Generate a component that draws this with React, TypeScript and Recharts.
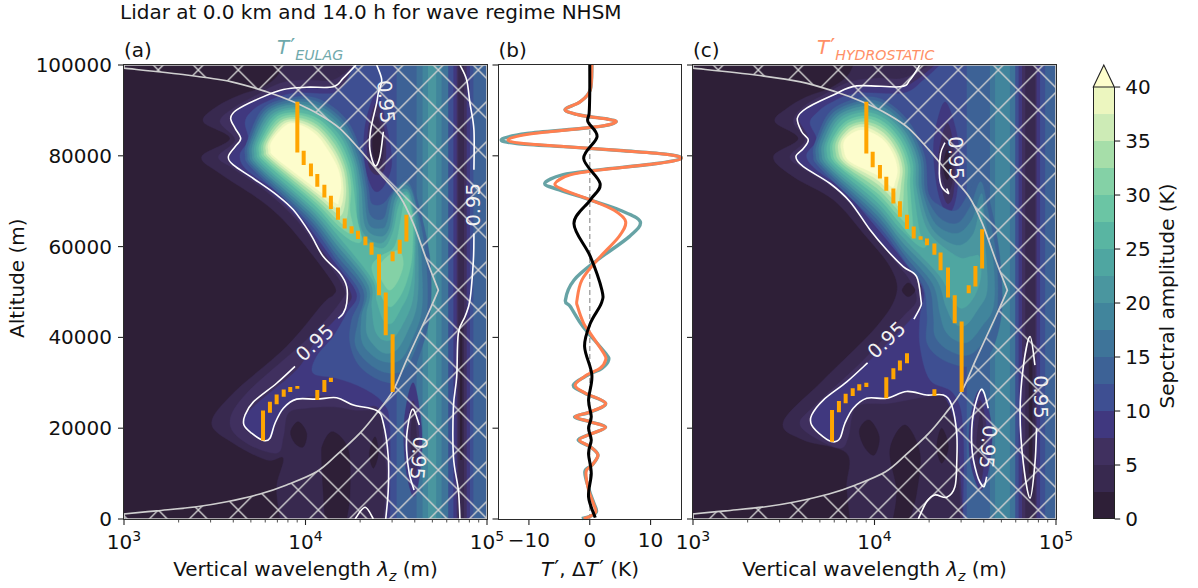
import React from 'react';
import { ScatterChart, Scatter, XAxis, YAxis, ReferenceLine, BarChart, Bar } from 'recharts';

type P = [number, number];
const FONT = '"DejaVu Sans", sans-serif';
const FS = 20;

// colour bands (2.5 K each)
const bandColors = ['#2e1f37','#38294f','#40305f','#40387f','#3e4f92','#3d6296','#3e7499','#41859c','#4a969f','#4fa6a1','#59b5a2','#6bc5a4','#84d1a6','#a6dea9','#cdebb6','#ecf6bf','#fdfdcc'];
const cbarLevels = [0,1,2,3,4,5,6,7,8,9,10,11,12,13,14,15];
const cbarTicks = [0,5,10,15,20,25,30,35,40];
const altTicks = [0,20000,40000,60000,80000,100000];
const lambdaTicks = [1000,2000,3000,4000,5000,6000,7000,8000,9000,10000,20000,30000,40000,50000,60000,70000,80000,90000,100000];
const tempTicks = [-10,0,10];

// cone of influence: [log10 wavelength, altitude km]
const coi: P[] = [[3,99.3],[3,99.3],[3.345,97.8],[3.593,96.3],[3.786,94.1],[3.933,91.9],[4.08,89],[4.19,86],[4.30,81.3],[4.41,76.1],[4.521,71],[4.594,65.1],[4.668,57],[4.732,50.4],[4.732,50.4],[4.668,44.6],[4.557,35],[4.484,28.4],[4.392,23.3],[4.30,18.9],[4.172,14.1],[4.061,10.4],[3.896,7.5],[3.749,5.5],[3.566,3.8],[3.4,2.7],[3.18,1.8],[3,1.1],[3,1.1],[3,0],[3,0],[5,0],[5,0],[5,100],[5,100],[3,100],[3,100]];
const fullField: P[] = [[3,0],[5,0],[5,100],[3,100]];

// panel a filled contours
const aL1: P[] = [[3.437,87.5],[3.584,83.8],[3.428,79.8],[3.529,76.1],[3.749,70.3],[3.896,65.1],[4.061,57],[4.162,51.2],[4.153,49.3],[4.098,47.5],[3.896,38],[3.602,27.7],[3.483,21.1],[3.602,16.7],[3.786,13],[3.878,13.4],[3.841,7.1],[3.86,0],[3.86,0],[5,0],[5,0],[5,100],[5,100],[3.878,100],[3.878,100],[3.841,97.4],[3.768,95.2],[3.639,93.4],[3.51,90.8]];
const aL2: P[] = [[3.529,87.5],[3.612,83.5],[3.52,79.8],[3.602,77.2],[3.786,72.1],[3.951,65.9],[4.098,57.8],[4.208,51.2],[4.199,48.2],[4.025,40.2],[3.676,27.7],[3.584,21.1],[3.676,16.7],[3.841,14.5],[3.878,18.1],[3.905,23.3],[4.006,24.4],[4.153,24.7],[4.264,24],[4.41,23.3],[4.429,16.7],[4.447,9.3],[4.429,0],[4.429,0],[5,0],[5,0],[5,100],[5,100],[4.264,100],[4.264,100],[4.153,96.7],[4.006,96.7],[3.86,96],[3.713,93],[3.602,90.5]];
const aL3: P[] = [[3.593,87.9],[3.643,83.8],[3.584,79.8],[3.612,77.6],[3.804,72.1],[3.951,66.6],[4.117,57.8],[4.245,50.4],[4.227,46.8],[4.061,39.4],[3.951,32.8],[3.713,24.7],[3.657,21.1],[3.713,18.5],[3.768,17.4],[3.814,18.1],[3.841,21.8],[3.896,24.7],[3.97,26.6],[4.153,27],[4.30,24.7],[4.41,24],[4.456,13],[4.447,0],[4.447,0],[5,0],[5,0],[5,100],[5,100],[4.30,100],[4.30,100],[4.227,96],[4.153,94.9],[4.006,94.9],[3.878,94.5],[3.749,92.7],[3.639,90.5]];
const aL4: P[] = [[3.667,87.2],[3.685,83.5],[3.639,80.2],[3.676,76.9],[3.841,72.1],[3.988,65.9],[4.153,57],[4.282,49.7],[4.227,45.3],[4.153,40.2],[4.061,35.8],[4.043,32.1],[4.172,31],[4.319,28.8],[4.429,25.5],[4.466,20.3],[4.466,0],[4.466,0],[5,0],[5,0],[5,100],[5,100],[4.264,100],[4.264,100],[4.227,96.7],[4.153,93.8],[3.933,93.8],[3.768,91.6],[3.694,89.4]];
const aL5: P[] = [[4.172,57],[4.30,49.7],[4.254,43.8],[4.245,38.7],[4.30,33.6],[4.429,30.3],[4.557,30.6],[4.631,36.5],[4.686,45.3],[4.686,57],[4.631,68],[4.567,75.4],[4.493,72.8],[4.429,69.5],[4.365,69.5],[4.346,73.2],[4.309,80.5],[4.227,87.9],[4.08,92.4],[3.933,92.9],[3.768,90.5],[3.685,83.8],[3.667,80.2],[3.713,76.9],[4.006,65.9]];
const aL6: P[] = [[4.172,58.1],[4.319,50.4],[4.291,43.8],[4.273,38.7],[4.328,35],[4.429,32.4],[4.539,32.8],[4.612,38],[4.668,45.3],[4.664,57],[4.622,67.3],[4.561,74.3],[4.47,71],[4.43,66.2],[4.355,67],[4.333,73.2],[4.298,80.2],[4.219,87.2],[4.078,91.7],[3.937,92.4],[3.779,90.1],[3.698,83.8],[3.68,80.3],[3.724,77.1],[4.014,66.4]];
const aL7: P[] = [[4.172,59.3],[4.333,50.8],[4.309,44.6],[4.309,39.4],[4.355,36.5],[4.429,34.7],[4.521,35],[4.585,39.4],[4.64,46],[4.64,56.3],[4.62,65.9],[4.58,72.5],[4.53,73.5],[4.48,71],[4.45,65.5],[4.42,64],[4.346,65.1],[4.319,73.2],[4.285,79.9],[4.21,86.6],[4.076,91],[3.94,91.8],[3.791,89.8],[3.709,83.8],[3.692,80.4],[3.736,77.3],[4.019,67]];
const aL8: P[] = [[4.172,60.4],[4.346,51.5],[4.337,45.3],[4.337,40.9],[4.383,38],[4.438,36.5],[4.502,37.2],[4.557,40.9],[4.612,46.8],[4.622,55.6],[4.61,65.1],[4.575,71.8],[4.53,72.5],[4.49,70],[4.46,64],[4.41,62.2],[4.328,64.4],[4.306,73.2],[4.274,79.5],[4.203,85.9],[4.074,90.3],[3.942,91.3],[3.802,89.5],[3.722,83.8],[3.705,80.5],[3.747,77.5],[4.027,67.5]];
const aL9: P[] = [[4.172,61.5],[4.355,52.3],[4.365,46.8],[4.383,41.6],[4.429,39.4],[4.484,39.8],[4.539,43.1],[4.59,48.2],[4.603,55.6],[4.603,64.4],[4.572,71.3],[4.535,71.8],[4.50,69.5],[4.47,63.5],[4.41,60.7],[4.309,63.7],[4.291,73.2],[4.264,79.2],[4.194,85.2],[4.073,89.6],[3.946,90.7],[3.814,89.1],[3.733,83.7],[3.718,80.6],[3.758,77.8],[4.032,68.1]];
const aL10: P[] = [[4.172,62.7],[4.365,53],[4.392,48.2],[4.429,43.8],[4.475,43.1],[4.521,46],[4.567,49.7],[4.594,55.6],[4.598,64.4],[4.57,70.8],[4.54,71],[4.51,68.5],[4.48,63],[4.42,59.6],[4.30,62.9],[4.278,73.2],[4.252,78.9],[4.186,84.6],[4.071,88.9],[3.95,90.2],[3.826,88.8],[3.746,83.7],[3.731,80.8],[3.771,78],[4.04,68.6]];
const aL11: P[] = [[4.172,63.9],[4.264,61.1],[4.309,61.5],[4.282,66.6],[4.264,73.2],[4.24,78.5],[4.177,83.8],[4.071,88.1],[3.953,89.5],[3.839,88.5],[3.758,83.6],[3.744,80.8],[3.784,78.3],[4.047,69.3]];
const aL11b: P[] = [[4.568,70],[4.59,66],[4.59,60],[4.579,55.6],[4.539,50.4],[4.475,46.8],[4.429,48.2],[4.392,51.9],[4.365,55.6],[4.41,57.8],[4.49,60],[4.525,66],[4.545,70.3]];
const aL12: P[] = [[4.172,65],[4.245,62.9],[4.264,64],[4.245,68],[4.251,73.2],[4.227,78.2],[4.168,83.2],[4.069,87.4],[3.957,89],[3.85,88.1],[3.771,83.6],[3.757,81],[3.795,78.5],[4.054,69.8]];
const aL12b: P[] = [[4.511,59.2],[4.539,56.3],[4.511,52.6],[4.466,50.4],[4.429,51.9],[4.401,54.8],[4.429,57]];
const aL13: P[] = [[4.172,66.1],[4.217,65.1],[4.236,68.8],[4.236,73.2],[4.216,77.8],[4.161,82.5],[4.067,86.7],[3.96,88.4],[3.861,87.7],[3.782,83.6],[3.77,81],[3.806,78.8],[4.06,70.4]];
const aL14: P[] = [[4.172,67.3],[4.199,67],[4.217,69.5],[4.223,73.2],[4.205,77.5],[4.151,81.9],[4.065,86],[3.962,87.9],[3.872,87.4],[3.795,83.5],[3.782,81.2],[3.817,79],[4.067,71]];
const aL15: P[] = [[4.172,68.4],[4.19,68.4],[4.205,70.3],[4.208,73.2],[4.192,77.2],[4.144,81.2],[4.063,85.3],[3.966,87.3],[3.885,87.1],[3.806,83.5],[3.795,81.3],[3.83,79.2],[4.073,71.5]];
const aL16: P[] = [[4.172,69.5],[4.181,69.9],[4.196,73.2],[4.181,76.9],[4.135,80.5],[4.061,84.6],[3.97,86.8],[3.896,86.8],[3.819,83.5],[3.808,81.4],[3.841,79.4],[4.08,72.1]];

// vertical stripes [band, log10 left, log10 right, km low, km high]
const aStripes = [[5,4.502,5,0,100],[6,4.612,4.787,0,100],[7,4.645,4.75,0,100],[8,4.675,4.72,0,100],[4,4.787,4.925,0,100],[3,4.815,4.906,0,100],[2,4.833,4.888,0,100],[1,4.842,4.873,0,100],[0,4.851,4.864,13,42]];
const cStripes = [[5,4.508,5,0,100],[6,4.636,4.776,0,100],[7,4.664,4.746,0,100],[4,4.776,4.94,0,100],[3,4.794,4.912,0,100],[2,4.813,4.893,0,100],[1,4.831,4.886,0,100],[0,4.85,4.87,10,35]];

// low-amplitude pockets: band, outline
const aPockets: [number, P[]][] = [
  [3,[[4.392,93.8],[4.447,86.4],[4.475,78.3],[4.429,73.2],[4.374,72.5],[4.328,78.3],[4.328,86.4]]],
  [2,[[4.392,91.6],[4.438,85],[4.438,77.6],[4.392,75.8],[4.346,78.3],[4.346,85.7]]],
  [1,[[4.392,88.6],[4.429,83.5],[4.42,78.3],[4.388,77.2],[4.359,79.8],[4.359,85]]],
  [0,[[4.392,86.4],[4.42,82.7],[4.401,79.1],[4.377,79.8],[4.37,83.5]]],
  [1,[[4.15,100],[4.15,100],[4.25,100],[4.25,100],[4.2,98]]],
  [3,[[4.594,30],[4.64,20],[4.63,10],[4.594,5],[4.55,12],[4.545,22]]],
  [2,[[4.594,26],[4.625,19],[4.615,12],[4.594,9],[4.57,14],[4.565,21]]],
  [1,[[4.594,24],[4.612,18],[4.60,13],[4.58,17]]],
  [0,[[3.96,21.4],[4.006,18.9],[3.988,15.9],[3.942,16.7],[3.918,19.2]]],
  [0,[[4.153,19.2],[4.236,15.2],[4.245,5.7],[4.227,0],[4.227,0],[4.107,0],[4.107,0],[4.089,13],[4.098,16.7]]],
  [0,[[4.383,18.1],[4.401,14.5],[4.374,11.2],[4.352,14.5]]],
];
const cPockets: [number, P[]][] = [
  [3,[[4.398,91.6],[4.462,82.7],[4.453,71.7],[4.407,67.3],[4.352,71.7],[4.325,81.3],[4.352,88.6]]],
  [2,[[4.401,87.2],[4.443,79.8],[4.434,71.7],[4.401,69.5],[4.37,73.2],[4.352,79.8]]],
  [1,[[4.401,83.5],[4.434,77.6],[4.416,72.5],[4.383,74],[4.365,79.1]]],
  [0,[[4.401,81.3],[4.42,77.6],[4.401,74.7],[4.379,77.6]]],
  [1,[[4.12,100],[4.12,100],[4.2,100],[4.2,100],[4.16,98]]],
  [3,[[4.582,28.4],[4.646,20.3],[4.628,10.8],[4.582,6.4],[4.527,13],[4.527,21.8]]],
  [2,[[4.582,26.2],[4.618,19.6],[4.6,11.5],[4.582,8.6],[4.545,15.2],[4.55,21.1]]],
  [1,[[4.585,23.3],[4.6,18.1],[4.585,11.5],[4.563,16.7]]],
  [0,[[3.971,21.8],[4.026,18.1],[3.999,14.1],[3.944,15.9],[3.917,19.6]]],
  [0,[[4.168,20.7],[4.25,14.5],[4.232,5.7],[4.195,0],[4.195,0],[4.103,0],[4.103,0],[4.122,6.4],[4.085,15.2]]],
  [0,[[4.37,20],[4.407,15.9],[4.37,12.3],[4.343,15.9]]],
  [0,[[4.186,52],[4.223,50.4],[4.186,49],[4.153,50.4]]],
];

// panel c filled contours
const cL1: P[] = [[3.452,87.5],[3.58,83.8],[3.443,79.8],[3.553,75.4],[3.773,70.3],[3.939,62.9],[4.085,55.6],[4.122,49.7],[4.012,42.4],[3.718,30.6],[3.498,21.4],[3.608,17.4],[3.847,14.5],[3.847,7.1],[3.865,0],[3.865,0],[5,0],[5,0],[5,100],[5,100],[3.884,100],[3.884,100],[3.847,97.4],[3.755,94.9],[3.626,93],[3.516,90.4]];
const cL2: P[] = [[3.553,87.5],[3.617,83.5],[3.534,79.8],[3.617,76.9],[3.81,71.7],[3.975,63.7],[4.122,56.3],[4.195,52.6],[4.232,48.2],[4.158,44.6],[3.939,35],[3.663,24.7],[3.589,21.1],[3.663,18.1],[3.81,15.6],[3.856,18.1],[3.902,24.7],[4.085,25.5],[4.306,27],[4.416,26.2],[4.452,16.7],[4.471,5.7],[4.471,0],[4.471,0],[5,0],[5,0],[5,100],[5,100],[4.306,100],[4.306,100],[4.158,97.1],[4.012,97.1],[3.865,96.3],[3.718,93.4],[3.608,90.8]];
const cL3: P[] = [[3.584,88],[3.639,83.5],[3.571,79.8],[3.617,77.5],[3.755,73.8],[3.865,69.9],[3.975,63.7],[4.067,59.3],[4.158,55.6],[4.25,52.6],[4.256,48.2],[4.214,44.6],[3.957,34.3],[3.718,26.2],[3.654,22.9],[3.654,20.7],[3.718,18.1],[3.773,17],[3.81,17.8],[3.837,21.1],[3.883,24.4],[3.957,26.6],[4.067,26.6],[4.177,28.1],[4.287,27.3],[4.379,27.3],[4.453,18.9],[4.489,0],[4.489,0],[5,0],[5,0],[5,100],[5,100],[4.333,100],[4.333,100],[4.232,96.7],[4.14,95.2],[3.902,95.4],[3.773,93.4],[3.626,90.5]];
const cL4: P[] = [[3.645,87.2],[3.681,83.5],[3.626,80.2],[3.672,77.2],[3.828,72.5],[3.993,65.1],[4.158,57],[4.27,50.4],[4.251,44.6],[4.251,38],[4.306,30.6],[4.434,27.7],[4.489,20.3],[4.489,0],[4.489,0],[5,0],[5,0],[5,100],[5,100],[4.361,100],[4.361,100],[4.27,96.7],[4.158,93.8],[3.902,93.8],[3.755,91.6],[3.681,89.4]];
const cL5: P[] = [[4.177,56.3],[4.27,51.2],[4.29,44.6],[4.29,38.7],[4.38,35],[4.527,33.6],[4.637,36.5],[4.70,45.3],[4.692,57],[4.646,68],[4.582,76.1],[4.517,71.7],[4.453,68],[4.37,68.8],[4.298,71.7],[4.278,79.8],[4.195,87.2],[4.067,91.9],[3.939,92.9],[3.764,90.1],[3.681,83.8],[3.663,80.2],[3.709,76.9],[4.012,65.1]];
const cL6: P[] = [[4.17,57.9],[4.30,51.2],[4.325,44.6],[4.334,40.2],[4.407,37.2],[4.517,36.1],[4.608,39.4],[4.673,45.3],[4.673,57],[4.628,67.3],[4.586,74.3],[4.527,68.8],[4.453,65.1],[4.352,66.6],[4.28,71.9],[4.265,79.5],[4.188,86.5],[4.065,91.2],[3.941,92.2],[3.775,89.6],[3.695,83.8],[3.677,80.3],[3.724,77.1],[4.012,66.1]];
const cL7: P[] = [[4.162,59.3],[4.319,51.9],[4.36,45.3],[4.388,41.6],[4.444,39.4],[4.517,39],[4.591,42.4],[4.655,46.8],[4.655,56.3],[4.609,65.9],[4.59,71.7],[4.536,65.9],[4.453,62.9],[4.334,65.1],[4.264,72.2],[4.251,79.3],[4.179,85.9],[4.063,90.4],[3.942,91.6],[3.788,89.2],[3.708,83.8],[3.694,80.4],[3.737,77.2],[4.012,67]];
const cL8: P[] = [[4.155,60.9],[4.338,53],[4.393,46.8],[4.44,43.1],[4.503,42.7],[4.567,46],[4.618,49.7],[4.618,56.3],[4.6,63.7],[4.587,69.5],[4.545,62.9],[4.453,60.3],[4.316,64],[4.247,72.4],[4.238,79],[4.171,85.2],[4.061,89.6],[3.944,90.9],[3.799,88.8],[3.723,83.7],[3.709,80.5],[3.752,77.3],[4.012,68]];
const cL9: P[] = [[4.148,62.4],[4.356,53.7],[4.43,48.2],[4.486,46.4],[4.55,49],[4.586,53.4],[4.577,57.8],[4.53,57.8],[4.456,57.8],[4.297,63.3],[4.231,72.7],[4.223,78.8],[4.162,84.7],[4.06,88.9],[3.946,90.2],[3.81,88.4],[3.738,83.7],[3.724,80.6],[3.766,77.5],[4.012,68.9]];
const cL10: P[] = [[4.14,64],[4.251,60],[4.287,60.4],[4.251,62.9],[4.214,72.9],[4.21,78.5],[4.155,84],[4.058,88.1],[3.948,89.6],[3.823,88],[3.751,83.7],[3.738,80.7],[3.779,77.7],[4.012,69.9]];
const cL11: P[] = [[4.131,65.6],[4.203,62.2],[4.213,63.7],[4.196,73.1],[4.194,78.2],[4.146,83.3],[4.056,87.3],[3.949,88.8],[3.836,87.4],[3.767,83.6],[3.757,80.8],[3.795,77.9],[4.012,71]];
const cL12: P[] = [[4.124,67.1],[4.177,65.1],[4.186,66.6],[4.179,73.3],[4.181,77.9],[4.137,82.7],[4.054,86.5],[3.951,88.2],[3.847,87],[3.78,83.6],[3.771,80.9],[3.808,78],[4.012,71.9]];
const cL13: P[] = [[4.117,68.6],[4.15,67.3],[4.162,73.6],[4.166,77.7],[4.129,82.1],[4.053,85.8],[3.953,87.5],[3.858,86.6],[3.795,83.6],[3.786,81],[3.823,78.2],[4.012,72.9]];
const cL14: P[] = [[4.109,70.2],[4.13,69.2],[4.146,73.9],[4.153,77.4],[4.12,81.4],[4.051,85],[3.955,86.9],[3.869,86.2],[3.809,83.5],[3.801,81.1],[3.838,78.3],[4.012,73.9]];
const cL15: P[] = [[4.102,71.7],[4.129,74.1],[4.139,77.2],[4.113,80.8],[4.049,84.2],[3.957,86.2],[3.882,85.8],[3.822,83.5],[3.817,81.2],[3.851,78.5],[4.012,74.8]];
const cL16: P[] = [[4.095,73.2],[4.113,74.3],[4.126,76.9],[4.104,80.2],[4.048,83.5],[3.957,85.5],[3.893,85.3],[3.837,83.5],[3.832,81.3],[3.866,78.7],[4.012,75.8]];

const aBase: [number, P[]][] = [[1,aL1],[2,aL2],[3,aL3],[4,aL4]];
const aUpper: [number, P[]][] = [[5,aL5],[6,aL6],[7,aL7],[8,aL8],[9,aL9],[10,aL10],[11,aL11],[11,aL11b],[12,aL12],[12,aL12b],[13,aL13],[14,aL14],[15,aL15],[16,aL16]];
const cBase: [number, P[]][] = [[1,cL1],[2,cL2],[3,cL3],[4,cL4]];
const cUpper: [number, P[]][] = [[5,cL5],[6,cL6],[7,cL7],[8,cL8],[9,cL9],[10,cL10],[11,cL11],[12,cL12],[13,cL13],[14,cL14],[15,cL15],[16,cL16]];

// significance contours (0.95)
const aSig: P[][] = [
  [[4.278,100],[4.208,97.1],[4.153,95.2],[4.006,95.1],[3.878,94.6],[3.749,92.7],[3.621,90.1],[3.588,88.3],[3.612,86.1],[3.643,83.8],[3.612,82],[3.575,79.8],[3.602,78],[3.713,75],[3.841,71.4],[3.933,68.1],[4.025,62.9],[4.098,57.8],[4.19,54.1],[4.227,51.2],[4.227,47.5],[4.208,45.3],[4.181,44.2]],
  [[3.942,33.6],[3.841,29.9],[3.713,25.8],[3.667,22.9],[3.661,20.7],[3.703,18.9],[3.768,17.3],[3.804,17.8],[3.832,21.1],[3.878,24.4],[3.951,26.4],[4.061,26.4],[4.172,26.7],[4.264,25.1],[4.392,23.9],[4.429,21.1],[4.456,13.7],[4.456,6.4],[4.442,0]],
  [[4.392,100],[4.42,96.7],[4.401,93.8],[4.392,91.6],[4.359,85.7],[4.355,81.3],[4.383,77.8],[4.41,79.8],[4.429,85.3]],
  [[4.851,100],[4.888,96.7],[4.906,91.6],[4.928,85.7],[4.928,76.9]],
  [[4.928,62.9],[4.925,57],[4.906,48.2],[4.879,44.6],[4.842,40.9],[4.833,31.3],[4.815,24.7],[4.815,13.7],[4.842,6.4],[4.851,0]],
  [[4.273,0],[4.328,2.6],[4.374,0]],
  [[4.627,20.7],[4.59,24.2],[4.561,19.6],[4.557,15.2],[4.572,10],[4.598,6.4]],
];
const cSig: P[][] = [
  [[4.25,100],[4.195,96.7],[4.14,95.2],[3.902,95.4],[3.773,93.4],[3.626,90.5],[3.575,88.3],[3.599,85.3],[3.635,83.5],[3.608,81.6],[3.567,79.8],[3.608,77.6],[3.755,73.9],[3.865,69.9],[3.975,63.7],[4.067,59.3],[4.158,55.6],[4.232,53.4],[4.256,48.2],[4.254,46.8],[4.217,44]],
  [[3.962,34.4],[3.847,30.2],[3.718,26.2],[3.654,22.9],[3.654,20.7],[3.718,18.1],[3.773,17],[3.81,17.8],[3.837,21.1],[3.883,24.4],[3.957,26.6],[4.067,26.6],[4.177,28.1],[4.287,27.3],[4.379,27.3],[4.425,25.1],[4.453,18.9],[4.453,12.3],[4.443,7.1],[4.398,4.8],[4.333,5.3],[4.287,3.8],[4.241,0]],
  [[4.388,82.9],[4.364,80.5],[4.357,76.1],[4.37,73.2],[4.407,71.7],[4.398,72.8]],
  [[4.627,24.4],[4.59,28.6],[4.545,23.3],[4.536,15.9],[4.563,10],[4.6,7.1],[4.618,9.3]],
  [[4.884,33.9],[4.857,40.2],[4.82,33.6],[4.802,23.3],[4.82,12.3],[4.857,4.6],[4.884,12.3],[4.893,20]],
];
const aSigLabels = [{ e: 4.052, km: 38.8, rot: -43 },{ e: 4.442, km: 91.9, rot: 85 },{ e: 4.925, km: 69.2, rot: -90 },{ e: 4.622, km: 13.4, rot: 95 }];
const cSigLabels = [{ e: 4.067, km: 39.4, rot: -43 },{ e: 4.447, km: 79.5, rot: 88 },{ e: 4.624, km: 15.9, rot: 95 },{ e: 4.912, km: 26.9, rot: 90 }];

// ridge segments (orange): log10 wavelength, top km, bottom km
const aRidgeExp = [3.955,3.99,4.03,4.065,4.104,4.14,4.179,4.216,4.254,4.289,4.33,4.364,4.405,4.442,4.48,4.48,4.519,4.556,3.766,3.804,3.841,3.88,3.916,3.955,4.065,4.104,4.14];
const aRidgeTop = [91.9,81.1,78.3,76,73.6,71.2,68.6,66.2,64.5,63.5,62.2,60.9,58.3,49.9,40.7,58.9,61.5,67,23.9,25.8,27.4,28.5,29.1,29.3,28.4,30.6,31.1];
const aRidgeBot = [80.7,78,75.5,73.2,70.8,68.3,65.9,64,62.9,61.7,60.3,58.2,49.3,40.5,28,56.8,58.4,61.1,17.3,23.4,25.3,26.9,28,28.7,26.2,28,30.2];
const cRidgeExp = [3.955,3.99,4.03,4.065,4.104,4.14,4.179,4.216,4.254,4.289,4.33,4.364,4.405,4.442,4.48,4.519,4.556,4.593,3.766,3.804,3.841,3.88,3.916,3.955,4.065,4.104,4.14,4.179,4.33];
const cRidgeTop = [91.9,80.9,78,75.4,72.8,70,67,64.4,62.3,61.8,60.7,58.7,55.4,49.3,43.5,51.5,55.7,63.8,24,26,27.6,28.8,29.7,30,31.2,33.2,34.9,36.5,28.6];
const cRidgeBot = [80.5,77.5,75,72.3,69.5,66.6,63.9,61.8,61.5,60.3,58.2,54.8,48.8,43.1,28,49.7,51.2,55.2,17,23.5,25.5,27.1,28.3,29.1,26.6,30.8,32.7,34.3,27.1];

// panel b profiles
const profileKm = [100,94.5,91.9,90.2,89.1,88.6,88.1,87.5,86.6,85.9,84.9,83.6,82.7,81.9,81.1,80.3,79.4,78.3,76.9,75.8,73.9,72.5,70.3,68,65.5,62.2,57,52.6,48.2,46.8,43.1,40.9,36.5,35,33.2,31.7,29.5,27.7,25.5,23.6,22.5,21.4,20.2,18.7,17.4,15.9,14.1,11.9,10.4,6.4,3.4,1.6,0.6,0.1];
const coralT = [.36,.08,-1.57,-4.05,-2.1,.1,2.84,4.33,2.3,-2.1,-9.3,-13.4,-10.9,-2.7,5.6,12.8,15,11.1,1.7,-3.2,-5.7,-4.3,.1,4,5.9,4.8,1.2,-1.3,-2.1,-2,-1,.1,2.3,2.6,1.7,-.5,-2.4,-.7,2.6,.1,-2.4,.1,2.6,.1,-1.7,.1,1.35,.4,-.6,-.2,.6,1,.1,-1];
const tealT = [.36,.08,-1.57,-4.05,-2.1,.1,2.84,4.33,2.3,-2.3,-10.3,-14.5,-12,-3,5.6,12.8,15,11,1.5,-4.5,-7.4,-5,0,5,8.3,6.5,1.2,-2.6,-4,-3.2,-1.5,-.2,2.6,3.1,2,-.3,-2.7,-.8,2.6,.2,-2.5,.1,2.6,.1,-1.9,.1,1.35,.4,-.8,-.1,.7,1.1,.1,-1.3];
const blackKm = [100,93.8,89.4,87.5,84.2,79.4,73.9,70.3,65.1,57.8,50.4,47.5,43.1,38,31.7,26.2,22.5,20,17.4,14.5,10,4.9,.3];
const blackT = [0,0,-.1,-.3,1.2,-1,1.7,.1,-2.6,.1,2,1.9,.1,-.85,.35,-.2,.25,-.2,.25,-.2,.25,-.2,.9];

const toTable = (pts: P[]) => pts.map(([e, km]) => ({ x: Math.pow(10, e), y: km * 1000 }));
const smooth = (pts: { x: number; y: number }[], closed: boolean) => {
  const n = pts.length;
  const at = (i: number) => (closed ? pts[(i + n) % n] : pts[Math.max(0, Math.min(n - 1, i))]);
  let d = `M${pts[0].x} ${pts[0].y}`;
  const last = closed ? n : n - 1;
  for (let i = 0; i < last; i++) {
    const p0 = at(i - 1), p1 = at(i), p2 = at(i + 1), p3 = at(i + 2);
    if (p1.x === p2.x && p1.y === p2.y) continue;
    d += `C${p1.x + (p2.x - p0.x) / 6} ${p1.y + (p2.y - p0.y) / 6} ${p2.x - (p3.x - p1.x) / 6} ${p2.y - (p3.y - p1.y) / 6} ${p2.x} ${p2.y}`;
  }
  return closed ? d + 'Z' : d;
};
const noShape = () => null as any;
const fillLine = (fill: string) => (p: any) => <path d={smooth(p.points, true)} fill={fill} stroke={fill} strokeWidth={0.4} />;
const sharpLine = (fill: string) => (p: any) => (
  <path d={'M' + p.points.map((q: any) => `${q.x} ${q.y}`).join('L') + 'Z'} fill={fill} stroke="none" />
);
const strokeLine = (color: string, w: number, op = 1) => (p: any) => (
  <path d={smooth(p.points, false)} fill="none" stroke={color} strokeWidth={w} strokeOpacity={op} strokeLinejoin="round" />
);
const segLine = (p: any) => {
  let d = '';
  for (let i = 0; i + 1 < p.points.length; i += 2) d += `M${p.points[i].x} ${p.points[i].y}L${p.points[i + 1].x} ${p.points[i + 1].y}`;
  return <path d={d} fill="none" stroke="#ffa500" strokeWidth={4} />;
};

const yTick = (showLabel: boolean) => (p: any) => (
  <g>
    <line x1={p.x - 6} x2={p.x} y1={p.y} y2={p.y} stroke="#222" strokeWidth={1.1} />
    {showLabel && (
      <text x={p.x - 12} y={p.y + 7} textAnchor="end" fontSize={FS} fontFamily={FONT} fill="#111">{p.payload.value}</text>
    )}
  </g>
);
const logTick = (p: any) => {
  const v = p.payload.value as number;
  const e = Math.log10(v);
  const major = Math.abs(e - Math.round(e)) < 1e-9;
  return (
    <g>
      <line x1={p.x} x2={p.x} y1={p.y} y2={p.y + (major ? 6 : 3.5)} stroke="#222" strokeWidth={major ? 1.1 : 0.8} />
      {major && (
        <text x={p.x} y={p.y + 30} textAnchor="middle" fontSize={FS} fontFamily={FONT} fill="#111">
          10<tspan dy={-8.5} fontSize={14}>{Math.round(e)}</tspan>
        </text>
      )}
    </g>
  );
};
const tempTick = (p: any) => (
  <g>
    <line x1={p.x} x2={p.x} y1={p.y} y2={p.y + 6} stroke="#222" strokeWidth={1.1} />
    <text x={p.x} y={p.y + 28} textAnchor="middle" fontSize={FS} fontFamily={FONT} fill="#111">
      {String(p.payload.value).replace('-', '\u2212')}
    </text>
  </g>
);
const sigLabelShape = (p: any) => (
  <text
    x={p.cx}
    y={p.cy}
    transform={`rotate(${p.payload.rot} ${p.cx} ${p.cy})`}
    textAnchor="middle"
    dominantBaseline="central"
    fontSize={19.5}
    fontFamily={FONT}
    fill="#f2f2f2"
  >
    0.95
  </text>
);

function FieldPanel(props: any) {
  const { left, width, axisW, id, base, stripes, pockets, upper, sig, labels, rExp, rTop, rBot, showY, right } = props;
  const ridge: { x: number; y: number }[] = [];
  rExp.forEach((e: number, i: number) => {
    ridge.push({ x: Math.pow(10, e), y: rTop[i] * 1000 });
    ridge.push({ x: Math.pow(10, e), y: rBot[i] * 1000 });
  });
  const hatchX = ((158.3 - left) % 40 + 40) % 40;
  return (
    <div style={{ position: 'absolute', left, top: 0 }}>
      <ScatterChart width={width} height={588} margin={{ top: 65, right, bottom: 0, left: 0 }} style={{ overflow: 'visible' }}>
        <defs>
          <pattern id={id} patternUnits="userSpaceOnUse" x={hatchX} y={70} width={40} height={40}>
            <path d="M0 0L40 40M40 0L0 40" stroke="#cfcfcf" strokeWidth={1.4} fill="none" />
          </pattern>
        </defs>
        <XAxis type="number" dataKey="x" scale="log" domain={[1000, 100000]} ticks={lambdaTicks} interval={0} height={69} axisLine={false} tickLine={false} tickSize={0} tickMargin={0} tick={logTick} />
        <YAxis type="number" dataKey="y" domain={[0, 100000]} ticks={altTicks} interval={0} width={axisW} axisLine={false} tickLine={false} tickSize={0} tickMargin={0} tick={yTick(showY)} />
        <Scatter data={toTable(fullField)} isAnimationActive={false} shape={noShape} lineType="joint" line={sharpLine(bandColors[0])} />
        {base.map(([b, pts]: any, i: number) => (
          <Scatter key={'b' + i} data={toTable(pts)} isAnimationActive={false} shape={noShape} lineType="joint" line={fillLine(bandColors[b])} />
        ))}
        {stripes.map((s: number[], i: number) => (
          <Scatter key={'s' + i} data={toTable([[s[1], s[3]], [s[2], s[3]], [s[2], s[4]], [s[1], s[4]]])} isAnimationActive={false} shape={noShape} lineType="joint" line={sharpLine(bandColors[s[0]])} />
        ))}
        {pockets.map(([b, pts]: any, i: number) => (
          <Scatter key={'p' + i} data={toTable(pts)} isAnimationActive={false} shape={noShape} lineType="joint" line={fillLine(bandColors[b])} />
        ))}
        {upper.map(([b, pts]: any, i: number) => (
          <Scatter key={'u' + i} data={toTable(pts)} isAnimationActive={false} shape={noShape} lineType="joint" line={fillLine(bandColors[b])} />
        ))}
        <Scatter
          data={toTable(coi)}
          isAnimationActive={false}
          shape={noShape}
          lineType="joint"
          line={(p: any) => <path d={smooth(p.points, true)} fill={`url(#${id})`} stroke="#cfcfcf" strokeWidth={1.7} />}
        />
        {sig.map((pts: P[], i: number) => (
          <Scatter key={'w' + i} data={toTable(pts)} isAnimationActive={false} shape={noShape} lineType="joint" line={strokeLine('#ffffff', 1.6)} />
        ))}
        <Scatter data={ridge} isAnimationActive={false} shape={noShape} lineType="joint" line={segLine} />
        <Scatter
          data={labels.map((l: any) => ({ x: Math.pow(10, l.e), y: l.km * 1000, rot: l.rot }))}
          isAnimationActive={false}
          shape={sigLabelShape}
        />
      </ScatterChart>
    </div>
  );
}

function ProfilePanel() {
  const tbl = (t: number[], km: number[]) => t.map((v, i) => ({ x: v, y: km[i] * 1000 }));
  return (
    <div style={{ position: 'absolute', left: 484, top: 0 }}>
      <ScatterChart width={214} height={588} margin={{ top: 65, right: 17, bottom: 0, left: 0 }} style={{ overflow: 'visible' }}>
        <XAxis type="number" dataKey="x" domain={[-15, 15]} ticks={tempTicks} interval={0} height={69} axisLine={false} tickLine={false} tickSize={0} tickMargin={0} tick={tempTick} />
        <YAxis type="number" dataKey="y" domain={[0, 100000]} ticks={altTicks} interval={0} width={14.5} axisLine={false} tickLine={false} tickSize={0} tickMargin={0} tick={yTick(false)} />
        <Scatter data={tbl(tealT, profileKm)} isAnimationActive={false} shape={noShape} lineType="joint" line={strokeLine('#5f9ea0', 3.4, 0.95)} />
        <Scatter data={tbl(coralT, profileKm)} isAnimationActive={false} shape={noShape} lineType="joint" line={strokeLine('#ff7f50', 3)} />
        <Scatter data={tbl(blackT, blackKm)} isAnimationActive={false} shape={noShape} lineType="joint" line={strokeLine('#000000', 3)} />
        <ReferenceLine x={0} stroke="#a8a8a8" strokeWidth={1.5} strokeDasharray="5 3" />
      </ScatterChart>
    </div>
  );
}

function ColorBar() {
  const row: any = { name: 'K', tip: 2.04 };
  cbarLevels.forEach((l) => (row['b' + l] = 2.5));
  const triangle = (p: any) => (
    <path d={`M${p.x} ${p.y + p.height}L${p.x + p.width / 2} ${p.y}L${p.x + p.width} ${p.y + p.height}Z`} fill={bandColors[16]} stroke="#222" strokeWidth={1.1} />
  );
  const tick = (p: any) => (
    <g>
      <line x1={p.x} x2={p.x + 5.5} y1={p.y} y2={p.y} stroke="#222" strokeWidth={1.1} />
      <text x={p.x + 10.5} y={p.y + 7} fontSize={FS} fontFamily={FONT} fill="#111">{p.payload.value}</text>
    </g>
  );
  return (
    <div style={{ position: 'absolute', left: 1080, top: 0 }}>
      <BarChart width={118} height={588} data={[row]} barCategoryGap={0} margin={{ top: 65, right: 0, bottom: 69, left: 13.3 }}>
        <XAxis dataKey="name" hide />
        <YAxis type="number" orientation="right" domain={[0, 42.04]} ticks={cbarTicks} interval={0} width={83.3} axisLine={false} tickLine={false} tickSize={0} tickMargin={0} tick={tick} />
        {cbarLevels.map((l) => (
          <Bar key={l} dataKey={'b' + l} stackId="c" fill={bandColors[l]} isAnimationActive={false} />
        ))}
        <Bar dataKey="tip" stackId="c" isAnimationActive={false} shape={triangle} />
      </BarChart>
    </div>
  );
}

const txt = (left: number, top: number, children: any, extra: any = {}) => (
  <div style={{ position: 'absolute', left, top, fontFamily: FONT, fontSize: FS, lineHeight: '22px', color: '#111', whiteSpace: 'nowrap', ...extra }}>{children}</div>
);
const frame = (left: number, top: number, w: number, h: number) => (
  <div style={{ position: 'absolute', left: left - 0.6, top: top - 0.6, width: w, height: h, border: '1.2px solid #2a2a2a', pointerEvents: 'none' }} />
);
const subStyle: any = { fontSize: 14, position: 'relative', top: 5, lineHeight: 0, verticalAlign: 'baseline' };
const prime = <span style={{ fontSize: 22, lineHeight: 0, marginLeft: 1 }}>′</span>;
const xLabel = (cx: number) =>
  txt(cx - 160, 558, (
    <span>Vertical wavelength <i>λ</i><i style={subStyle}>z</i> (m)</span>
  ), { width: 320, textAlign: 'center' });
const tPrime = (color: string, sub: string) => (
  <span style={{ color }}>
    <i>T</i>{prime}
    <i style={{ ...subStyle, fontSize: 14.2, top: 6 }}>{sub}</i>
  </span>
);

export default function App() {
  return (
    <div style={{ position: 'absolute', left: 0, top: 0, width: 1198, height: 588, background: '#fff', overflow: 'hidden' }}>
      <FieldPanel left={0} width={520} axisW={124} right={33} id="hatchA" base={aBase} stripes={aStripes} pockets={aPockets} upper={aUpper} sig={aSig} labels={aSigLabels} rExp={aRidgeExp} rTop={aRidgeTop} rBot={aRidgeBot} showY />
      <ProfilePanel />
      <FieldPanel left={660} width={430} axisW={33} right={34} id="hatchC" base={cBase} stripes={cStripes} pockets={cPockets} upper={cUpper} sig={cSig} labels={cSigLabels} rExp={cRidgeExp} rTop={cRidgeTop} rBot={cRidgeBot} showY={false} />
      <ColorBar />
      {frame(124, 65, 363, 454)}
      {frame(498.5, 65, 182.5, 454)}
      {frame(693, 65, 363, 454)}
      <div style={{ position: 'absolute', left: 1093.3, top: 87, width: 21.4, height: 432, borderLeft: '1.1px solid #222', borderRight: '1.1px solid #222', borderBottom: '1.1px solid #222', boxSizing: 'border-box' }} />
      {txt(120, 1, 'Lidar at 0.0 km and 14.0 h for wave regime NHSM')}
      {txt(124, 39, '(a)')}
      {txt(498.5, 39, '(b)')}
      {txt(693, 39, '(c)')}
      {txt(277, 36, tPrime('#6fa9ab', 'EULAG'))}
      {txt(817, 36, tPrime('#ff8f66', 'HYDROSTATIC'))}
      {txt(-33, 277, 'Altitude (m)', { width: 100, textAlign: 'center', transform: 'rotate(-90deg)' })}
      {xLabel(305.5)}
      {xLabel(874.5)}
      {txt(490, 558, (
        <span><i>T</i>{prime}, Δ<i>T</i>{prime} (K)</span>
      ), { width: 200, textAlign: 'center' })}
      {txt(1047, 285, 'Sepctral amplitude (K)', { width: 240, textAlign: 'center', transform: 'rotate(-90deg)' })}
    </div>
  );
}
